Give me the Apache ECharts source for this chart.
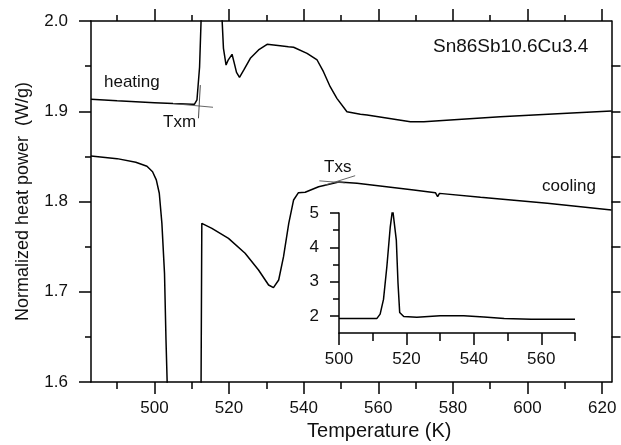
<!DOCTYPE html>
<html>
<head>
<meta charset="utf-8">
<script src="https://cdn.jsdelivr.net/npm/echarts@6/dist/echarts.min.js"></script>
<style>
  html, body { margin: 0; padding: 0; background: #fff; }
  #chart { width: 621px; height: 445px; }
</style>
</head>
<body>
<div id="chart"></div>
<script>
// heating curve, main panel (K, W/g)
const heatT = [483, 490, 500, 505, 510, 510.7, 511.4, 512.1, 512.5, 513.2, 514.2, 515.9, 517.0, 517.5, 518.0, 518.15,
  518.5, 519.2, 519.8, 520.8, 521.3, 522.0, 522.8, 524.0, 525.7, 527.9, 530.2, 533.7, 535.9, 537.3, 540.9,
  543.6, 545.3, 547.1, 548.9, 551.6, 555.2, 557, 568.6, 572.2, 579.3, 592.7, 610.6, 622.5];
const heatV = [1.9132, 1.9115, 1.9095, 1.9085, 1.9077, 1.9077, 1.9125, 1.949, 2.0, 2.48, 3.44, 5.12, 4.21, 2.96, 2.25, 2.0,
  1.9697, 1.9512, 1.957, 1.9631, 1.955, 1.943, 1.9376, 1.946, 1.9587, 1.9679, 1.9742, 1.9726, 1.9715, 1.9709, 1.9642,
  1.9568, 1.9438, 1.9272, 1.9143, 1.8995, 1.8966, 1.8958, 1.8884, 1.8884, 1.8903, 1.894, 1.8978, 1.9003];

// cooling curve
const coolT = [483, 490, 495, 498, 499.5, 500.5, 501.3, 502.0, 502.7, 503.1, 503.4, 503.7, 505, 512.3, 512.5, 512.7,
  515.4, 519.85, 524.3, 527.9, 530.6, 531.9, 533.3, 534.6, 536.0, 537.3, 538.6, 540.4, 544.0, 549.4, 554.3,
  560.5, 569.5, 575.3, 575.9, 576.4, 587.4, 605.3, 622.5];
const coolV = [1.8504, 1.8475, 1.8435, 1.839, 1.833, 1.824, 1.8091, 1.7758, 1.7204, 1.6465, 1.602, 1.5, 1.3, 1.3, 1.6, 1.7758,
  1.7703, 1.7592, 1.7426, 1.7241, 1.7075, 1.7045, 1.713, 1.7389, 1.7758, 1.8017, 1.8098, 1.8102, 1.8164, 1.8215, 1.8202,
  1.8172, 1.8128, 1.8098, 1.8053, 1.809, 1.8047, 1.798, 1.7906];

// inset: full heating peak
const insetT = [500, 511.2, 512.2, 513.2, 514.2, 515.2, 515.9, 516.4, 517.0, 517.5, 518.0, 519.2, 523.1, 530, 537, 543, 549, 557, 570];
const insetV = [1.92, 1.92, 2.05, 2.48, 3.44, 4.59, 5.12, 5.07, 4.21, 2.96, 2.1, 1.98, 1.96, 2.0, 2.0, 1.97, 1.92, 1.9, 1.9];

// tangent construction lines
const txmBaseT = [505, 515.7], txmBaseV = [1.9085, 1.9044];
const txmRiseT = [511.8, 512.3], txmRiseV = [1.8922, 1.929];
const txsBaseT = [544.2, 551.0], txsBaseV = [1.8229, 1.8206];
const txsRiseT = [545.8, 553.8], txsRiseV = [1.8182, 1.8286];

// ticks
const xMajor = [500, 520, 540, 560, 580, 600, 620];
const xMinor = [490, 510, 530, 550, 570, 590, 610];
const yMajor = [1.6, 1.7, 1.8, 1.9, 2.0];
const yMinor = [1.65, 1.75, 1.85, 1.95];
const yRight = [1.65, 1.7, 1.75, 1.8, 1.85, 1.9, 1.95];
const insetXMajor = [500, 520, 540, 560];
const insetXMinor = [510, 530, 550, 570];
const insetYMajor = [2, 3, 4, 5];
const insetYMinor = [2.5, 3.5, 4.5];

const zip = (a, b) => a.map((t, i) => [t, b[i]]);

const FONT = "'Liberation Sans', Arial, sans-serif";
const INK = '#111';
const axisLine = { show: true, lineStyle: { color: '#000', width: 1.5 } };
const noLine = { show: false };

const tickAxis = (extra, values, len, labels) => Object.assign({
  type: 'value',
  axisLine: noLine,
  splitLine: { show: false },
  axisTick: { show: true, customValues: values, length: len, lineStyle: { color: '#000', width: 1.5 } },
  axisLabel: labels || { show: false },
}, extra);

const lbl = (values, margin, fmt) => ({
  show: true, customValues: values, margin: margin,
  color: INK, fontSize: 17, fontFamily: FONT,
  formatter: fmt,
});

const mChart = echarts.init(document.getElementById('chart'));

const options = {
  animation: false,
  backgroundColor: '#fff',
  grid: [
    { left: 91, top: 21, right: 9.5, bottom: 63, outerBoundsMode: 'none' },
    { left: 339, top: 213, width: 236, height: 120, outerBoundsMode: 'none' },
  ],
  xAxis: [
    tickAxis({ gridIndex: 0, min: 483, max: 622.5, position: 'bottom', axisLine: axisLine,
      name: 'Temperature (K)', nameLocation: 'middle', nameGap: 36,
      nameTextStyle: { color: INK, fontSize: 20, fontFamily: FONT, padding: [0, 0, 0, 56] } },
      xMajor, 12, lbl(xMajor, 18)),
    tickAxis({ gridIndex: 0, min: 483, max: 622.5, position: 'bottom' }, xMinor, 7),
    tickAxis({ gridIndex: 0, min: 483, max: 622.5, position: 'top', axisLine: axisLine }, xMajor, 12),
    tickAxis({ gridIndex: 0, min: 483, max: 622.5, position: 'top' }, xMinor, 6),
    tickAxis({ gridIndex: 1, min: 500, max: 570, position: 'bottom', axisLine: axisLine },
      insetXMajor, 12, lbl(insetXMajor, 18)),
    tickAxis({ gridIndex: 1, min: 500, max: 570, position: 'bottom' }, insetXMinor, 8),
  ],
  yAxis: [
    tickAxis({ gridIndex: 0, min: 1.6, max: 2.0, position: 'left', axisLine: axisLine,
      name: 'Normalized heat power  (W/g)', nameLocation: 'middle', nameGap: 59,
      nameTextStyle: { color: INK, fontSize: 18, fontFamily: FONT } },
      yMajor, 12, lbl(yMajor, 23, v => v.toFixed(1))),
    tickAxis({ gridIndex: 0, min: 1.6, max: 2.0, position: 'left' }, yMinor, 6),
    tickAxis({ gridIndex: 0, min: 1.6, max: 2.0, position: 'right', axisLine: axisLine }, yRight, 9),
    tickAxis({ gridIndex: 1, min: 1.5, max: 5, position: 'left', axisLine: axisLine },
      insetYMajor, 9, lbl(insetYMajor, 20)),
    tickAxis({ gridIndex: 1, min: 1.5, max: 5, position: 'left' }, insetYMinor, 6),
  ],
  series: [
    { type: 'line', xAxisIndex: 0, yAxisIndex: 0, data: zip(heatT, heatV), showSymbol: false,
      lineStyle: { color: '#000', width: 1.5 } },
    { type: 'line', xAxisIndex: 0, yAxisIndex: 0, data: zip(coolT, coolV), showSymbol: false,
      lineStyle: { color: '#000', width: 1.5 } },
    { type: 'line', xAxisIndex: 0, yAxisIndex: 0, data: zip(txmBaseT, txmBaseV), showSymbol: false,
      lineStyle: { color: '#555', width: 0.9 } },
    { type: 'line', xAxisIndex: 0, yAxisIndex: 0, data: zip(txmRiseT, txmRiseV), showSymbol: false,
      lineStyle: { color: '#333', width: 0.9 } },
    { type: 'line', xAxisIndex: 0, yAxisIndex: 0, data: zip(txsBaseT, txsBaseV), showSymbol: false,
      lineStyle: { color: '#555', width: 0.9 } },
    { type: 'line', xAxisIndex: 0, yAxisIndex: 0, data: zip(txsRiseT, txsRiseV), showSymbol: false,
      lineStyle: { color: '#555', width: 0.9 } },
    { type: 'line', xAxisIndex: 4, yAxisIndex: 3, data: zip(insetT, insetV), showSymbol: false,
      lineStyle: { color: '#000', width: 1.5 } },
  ],
  graphic: [
    { type: 'text', x: 104, y: 82, style: { text: 'heating', fill: INK, font: '17px ' + FONT, verticalAlign: 'middle' } },
    { type: 'text', x: 163, y: 122, style: { text: 'Txm', fill: INK, font: '17px ' + FONT, verticalAlign: 'middle' } },
    { type: 'text', x: 433, y: 47, style: { text: 'Sn86Sb10.6Cu3.4', fill: INK, font: '19px ' + FONT, verticalAlign: 'middle' } },
    { type: 'text', x: 324, y: 167, style: { text: 'Txs', fill: INK, font: '17px ' + FONT, verticalAlign: 'middle' } },
    { type: 'text', x: 542, y: 186, style: { text: 'cooling', fill: INK, font: '17px ' + FONT, verticalAlign: 'middle' } },
  ],
};

mChart.setOption(options);
</script>
</body>
</html>
